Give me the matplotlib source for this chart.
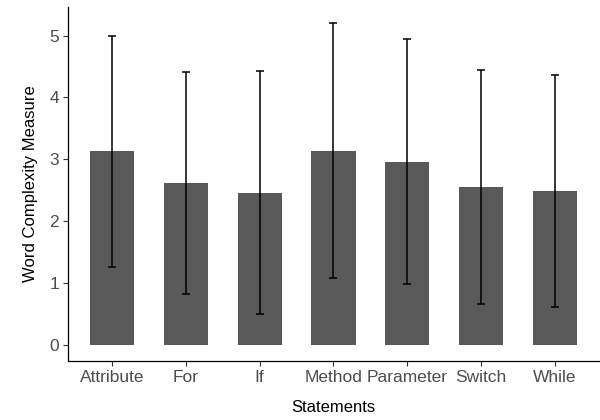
import matplotlib
matplotlib.use("Agg")
import matplotlib.pyplot as plt
import numpy as np

statements = ["Attribute", "For", "If", "Method", "Parameter", "Switch", "While"]
mean_wcm = [3.13, 2.62, 2.46, 3.14, 2.96, 2.55, 2.49]
sd_wcm = [1.87, 1.79, 1.96, 2.06, 1.98, 1.89, 1.87]

plt.rcParams['font.family'] = ['Liberation Sans', 'DejaVu Sans']

fig = plt.figure(figsize=(6, 4.2), dpi=100)
ax = fig.add_axes([0.1133, 0.1405, 0.885, 0.8425])

pos = np.arange(1, len(statements) + 1)
ax.bar(pos, mean_wcm, width=0.6, color="#595959", zorder=1)
ax.errorbar(pos, mean_wcm, yerr=sd_wcm, fmt="none", ecolor="black",
            elinewidth=1.1, capsize=3.2, capthick=1.1, zorder=2)

ax.set_xlim(0.4, 7.6)
ax.set_ylim(-0.26, 5.46)
ax.set_xticks(pos)
ax.set_xticklabels(statements)
ax.set_yticks([0, 1, 2, 3, 4, 5])

for side in ["top", "right"]:
    ax.spines[side].set_visible(False)
for side in ["left", "bottom"]:
    ax.spines[side].set_linewidth(0.9)
    ax.spines[side].set_color("black")

ax.tick_params(axis="both", length=3.5, width=0.8, color="#333333",
               labelcolor="#4d4d4d", labelsize=12.5, pad=3)

ax.set_xlabel("Statements", fontsize=12, labelpad=11)
ax.set_ylabel("Word Complexity Measure", fontsize=12, labelpad=8)

fig.savefig("out.png", dpi=100)
